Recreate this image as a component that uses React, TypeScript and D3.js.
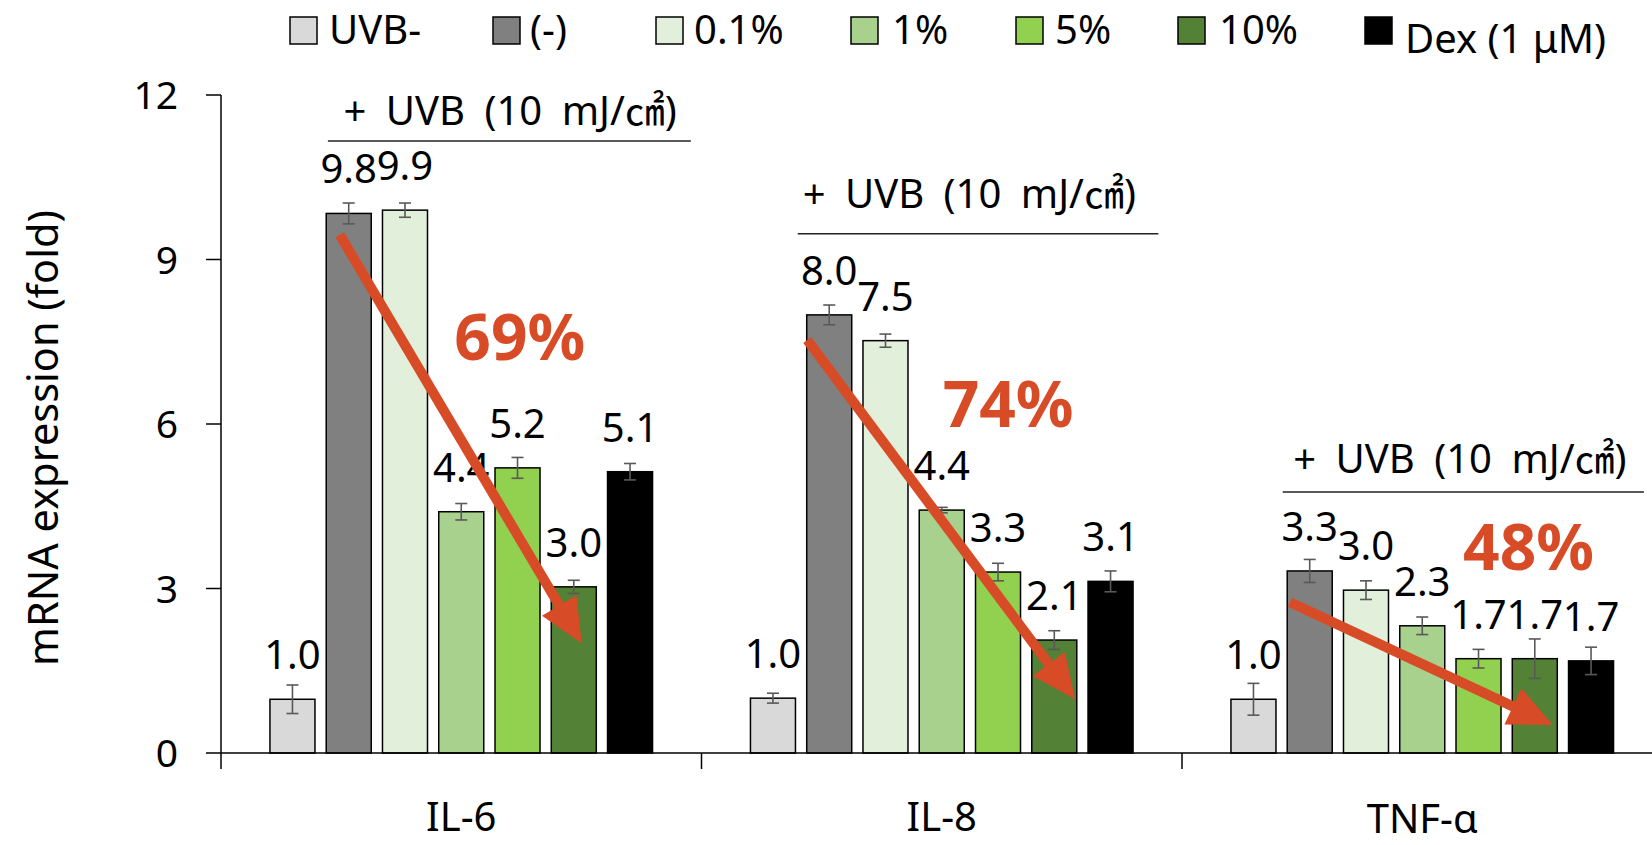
import React from "react";
import * as d3 from "d3";

const categories = ["IL-6", "IL-8", "TNF-α"];
const series = ["UVB-", "(-)", "0.1%", "1%", "5%", "10%", "Dex (1 μM)"];
const seriesColors = ["#D9D9D9", "#808080", "#E2EFDA", "#A9D18E", "#92D050", "#538135", "#000000"];

const il6Values = [0.98, 9.84, 9.9, 4.4, 5.2, 3.03, 5.13];
const il6Errors = [0.26, 0.19, 0.13, 0.15, 0.19, 0.12, 0.15];
const il8Values = [1.0, 7.99, 7.52, 4.43, 3.3, 2.06, 3.13];
const il8Errors = [0.09, 0.18, 0.12, 0.05, 0.16, 0.17, 0.19];
const tnfValues = [0.98, 3.32, 2.97, 2.32, 1.72, 1.72, 1.68];
const tnfErrors = [0.29, 0.21, 0.17, 0.16, 0.17, 0.36, 0.25];

const yTicks = [0, 3, 6, 9, 12];

// annotation: reduction percentages and arrows (bar-index units / data units)
const reductionLabels = ["69%", "74%", "48%"];
const reductionLabelPos = [
  { i: 4.04, v: 7.17 },
  { i: 4.18, v: 5.95 },
  { i: 4.89, v: 3.34 },
];
const arrowFrom = [
  { i: 0.84, v: 9.45 },
  { i: 0.61, v: 7.53 },
  { i: 0.65, v: 2.75 },
];
const arrowTo = [
  { i: 5.14, v: 2.0 },
  { i: 5.37, v: 0.98 },
  { i: 5.32, v: 0.51 },
];
const uvbText = "+ UVB (10 mJ/㎠)";
const uvbTextPos = [
  { i: 3.87, v: 11.45 },
  { i: 3.49, v: 9.94 },
  { i: 3.67, v: 5.11 },
];
const uvbLine = [
  { i0: 0.63, i1: 7.08, v: 11.16 },
  { i0: 0.44, i1: 6.85, v: 9.47 },
  { i0: 0.52, i1: 6.94, v: 4.76 },
];

const valuesByCat = [il6Values, il8Values, tnfValues];
const errorsByCat = [il6Errors, il8Errors, tnfErrors];

const W = 1652;
const H = 845;
const FONT = "'Noto Sans', 'Open Sans', 'Noto Sans CJK KR', sans-serif";
const RED = "#D84B27";

const legendMarkerX = [290, 493, 656, 851, 1016, 1178, 1365];
const legendTextX = [329, 530, 694, 892, 1055, 1219, 1405];

export default function App() {
  const y = d3.scaleLinear().domain([0, 12]).range([753, 95]);
  const x0 = d3.scaleBand<string>().domain(categories).range([221, 1662.5]).padding(0);
  const x1 = d3
    .scaleBand<number>()
    .domain(d3.range(series.length))
    .range([0, x0.bandwidth()])
    .paddingInner(0.2)
    .paddingOuter(0.87);
  const bw = x1.bandwidth();
  const step = x1.step();
  // continuous bar-index position -> pixel (center of bar i)
  const xi = (c: number, i: number) => (x0(categories[c]) as number) + (x1(0) as number) + bw / 2 + i * step;

  const headLen = 44;
  const headHalf = 20;

  return (
    <svg
      width={W}
      height={H}
      style={{ position: "fixed", left: 0, top: 0, background: "#fff" }}
      fontFamily={FONT}
    >
      <rect x={0} y={0} width={W} height={H} fill="#fff" />

      {/* legend */}
      {series.map((s, k) => (
        <g key={"lg" + k}>
          <rect
            x={legendMarkerX[k]}
            y={17}
            width={27}
            height={27}
            fill={seriesColors[k]}
            stroke="#000"
            strokeWidth={1.5}
          />
          <text x={legendTextX[k]} y={k === 6 ? 53 : 44} fontSize={40} fill="#000">
            {s}
          </text>
        </g>
      ))}

      {/* y axis */}
      <line x1={221} x2={221} y1={y(12)} y2={y(0)} stroke="#000" strokeWidth={1.5} />
      {yTicks.map((t) => (
        <g key={"yt" + t}>
          <line x1={206} x2={221} y1={y(t)} y2={y(t)} stroke="#000" strokeWidth={1.5} />
          <text x={178} y={y(t) + 14} textAnchor="end" fontSize={39} fill="#000">
            {t}
          </text>
        </g>
      ))}
      <text
        transform={`translate(58, ${(y(0) + y(12)) / 2 + 14}) rotate(-90)`}
        textAnchor="middle"
        fontSize={41.5}
        fill="#000"
      >
        mRNA expression (fold)
      </text>

      {/* bars */}
      {categories.map((c, ci) => (
        <g key={"cat" + c} transform={`translate(${x0(c)},0)`}>
          {valuesByCat[ci].map((v, k) => {
            const bx = x1(k) as number;
            const e = errorsByCat[ci][k];
            const cx = bx + bw / 2;
            return (
              <g key={"b" + k}>
                <rect
                  x={bx}
                  y={y(v)}
                  width={bw}
                  height={y(0) - y(v)}
                  fill={seriesColors[k]}
                  stroke="#000"
                  strokeWidth={1.5}
                />
                <line x1={cx} x2={cx} y1={y(v + e)} y2={y(v - e)} stroke="#595959" strokeWidth={1.6} />
                <line x1={cx - 6} x2={cx + 6} y1={y(v + e)} y2={y(v + e)} stroke="#595959" strokeWidth={1.6} />
                <line x1={cx - 6} x2={cx + 6} y1={y(v - e)} y2={y(v - e)} stroke="#595959" strokeWidth={1.6} />
                <text x={cx} y={y(v) - 30} textAnchor="middle" fontSize={40} fill="#000">
                  {v.toFixed(1)}
                </text>
              </g>
            );
          })}
        </g>
      ))}

      {/* x axis */}
      <line x1={221} x2={W} y1={y(0)} y2={y(0)} stroke="#000" strokeWidth={1.5} />
      {[...categories.map((c) => x0(c) as number), 1662.5].map((t, k) => (
        <line key={"xt" + k} x1={t} x2={t} y1={y(0)} y2={y(0) + 16} stroke="#000" strokeWidth={1.5} />
      ))}
      {categories.map((c, ci) => (
        <text
          key={"xl" + c}
          x={(x0(c) as number) + x0.bandwidth() / 2}
          y={ci === 2 ? 833 : 831}
          textAnchor="middle"
          fontSize={40}
          fill="#000"
        >
          {c}
        </text>
      ))}

      {/* UVB annotations */}
      {categories.map((c, ci) => (
        <g key={"uvb" + ci}>
          <text
            x={xi(ci, uvbTextPos[ci].i)}
            y={y(uvbTextPos[ci].v)}
            textAnchor="middle"
            fontSize={40}
            wordSpacing={9}
            fill="#000"
          >
            {uvbText}
          </text>
          <line
            x1={xi(ci, uvbLine[ci].i0)}
            x2={xi(ci, uvbLine[ci].i1)}
            y1={y(uvbLine[ci].v)}
            y2={y(uvbLine[ci].v)}
            stroke="#222"
            strokeWidth={1.5}
          />
        </g>
      ))}

      {/* arrows */}
      {categories.map((c, ci) => {
        const sx = xi(ci, arrowFrom[ci].i);
        const sy = y(arrowFrom[ci].v);
        const tx = xi(ci, arrowTo[ci].i);
        const ty = y(arrowTo[ci].v);
        const len = Math.hypot(tx - sx, ty - sy);
        const ux = (tx - sx) / len;
        const uy = (ty - sy) / len;
        const bxp = tx - ux * headLen;
        const byp = ty - uy * headLen;
        const px = -uy;
        const py = ux;
        const head = [
          [tx, ty],
          [bxp + px * headHalf, byp + py * headHalf],
          [bxp - px * headHalf, byp - py * headHalf],
        ];
        return (
          <g key={"ar" + ci}>
            <line
              x1={sx}
              y1={sy}
              x2={bxp + ux * 4}
              y2={byp + uy * 4}
              stroke={RED}
              strokeWidth={10}
            />
            <polygon points={head.map((p) => p.join(",")).join(" ")} fill={RED} />
          </g>
        );
      })}

      {/* percentages */}
      {categories.map((c, ci) => (
        <text
          key={"pct" + ci}
          x={xi(ci, reductionLabelPos[ci].i)}
          y={y(reductionLabelPos[ci].v)}
          textAnchor="middle"
          fontSize={64}
          fontWeight="bold"
          fill={RED}
        >
          {reductionLabels[ci]}
        </text>
      ))}
    </svg>
  );
}
